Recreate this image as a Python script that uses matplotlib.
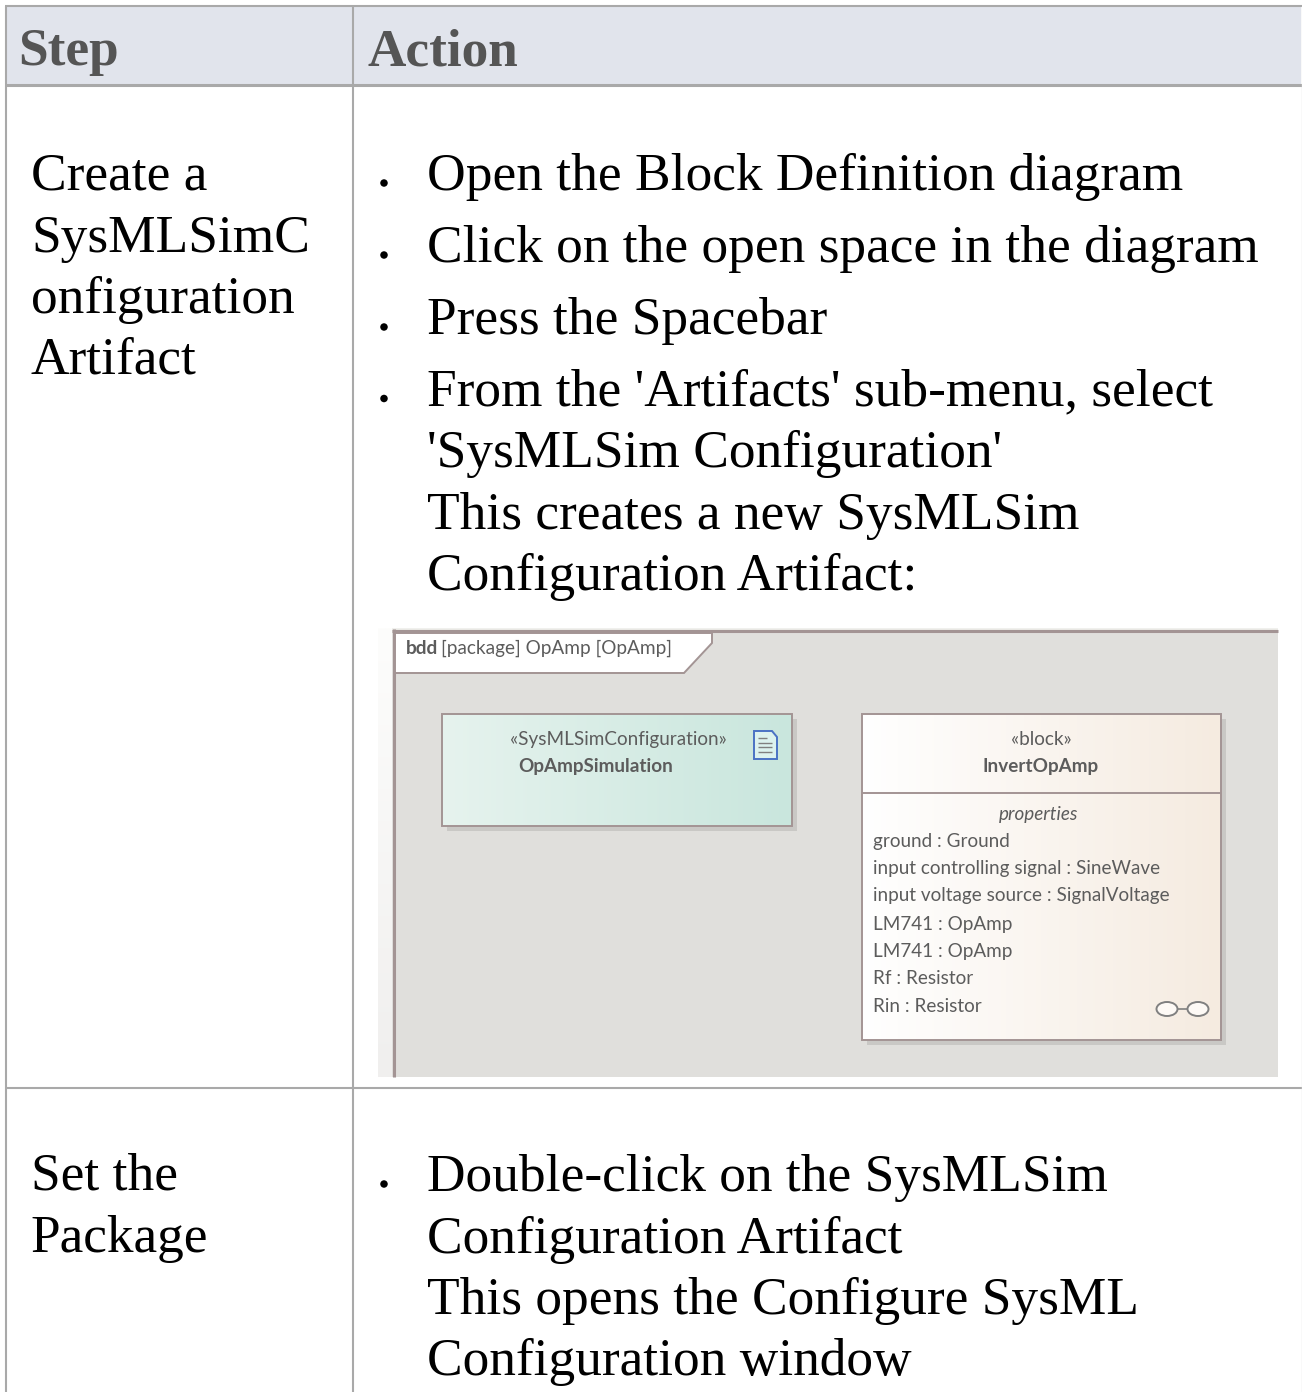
import numpy as np
import matplotlib
matplotlib.use("Agg")
import matplotlib.pyplot as plt
from matplotlib.patches import Rectangle, Polygon, Ellipse
from matplotlib.colors import LinearSegmentedColormap

headers = ["Step", "Action"]
step_lines_1 = ["Create a", "SysMLSimC", "onfiguration", "Artifact"]
step_lines_2 = ["Set the", "Package"]
action_bullets_1 = ["Open the Block Definition diagram", "Click on the open space in the diagram",
                    "Press the Spacebar", "From the 'Artifacts' sub-menu, select"]
action_cont_1 = ["'SysMLSim Configuration'", "This creates a new SysMLSim", "Configuration Artifact:"]
action_bullets_2 = ["Double-click on the SysMLSim"]
action_cont_2 = ["Configuration Artifact", "This opens the Configure SysML", "Configuration window"]
frame_label_bold = "bdd"
frame_label = "[package] OpAmp [OpAmp]"
config_stereo = "«SysMLSimConfiguration»"
config_name = "OpAmpSimulation"
block_stereo = "«block»"
block_name = "InvertOpAmp"
block_heading = "properties"
block_props = ["ground : Ground", "input controlling signal : SineWave", "input voltage source : SignalVoltage",
               "LM741 : OpAmp", "LM741 : OpAmp", "Rf : Resistor", "Rin : Resistor"]

SERIF = "Liberation Serif"
SANS = "Lato"
GRID = "#a9a9a9"
HEAD_INK = "#555555"
INK = "#5c5c5c"
EDGE = "#a39494"
SMALL = 13.6

fig = plt.figure(figsize=(13.02, 13.92), dpi=100)
ax = fig.add_axes([0, 0, 1, 1])
ax.set_xlim(0, 1302)
ax.set_ylim(1392, 0)
ax.axis("off")


def grad(x0, x1, y0, y1, c0, c1, z=2, vertical=False):
    cmap = LinearSegmentedColormap.from_list("g", [c0, c1])
    ramp = np.linspace(0, 1, 256)
    arr = ramp.reshape(-1, 1) if vertical else ramp.reshape(1, -1)
    ax.imshow(arr, extent=(x0, x1, y1, y0), origin="upper", cmap=cmap,
              aspect="auto", zorder=z, interpolation="bilinear")


def body(x, y, s):
    ax.text(x, y, s, family=SERIF, fontsize=38.42, color="black", va="baseline", ha="left", zorder=5)


def line(x0, y0, x1, y1, c=GRID, lw=1.5, z=3):
    ax.plot([x0, x1], [y0, y1], color=c, lw=lw, zorder=z, solid_capstyle="butt")


def small(x, y, s, **kw):
    ax.text(x, y, s, family=SANS, fontsize=SMALL, color=INK, zorder=5, **kw)


def bullet(y):
    ax.add_patch(Ellipse((384, y - 7), 7.5, 7.5, fc="black", ec="none", zorder=5))


# table
ax.add_patch(Rectangle((5, 6), 1296, 79, fc="#e1e4ec", ec="none", zorder=1))
line(5, 6, 1302, 6)
line(5, 85, 1302, 85, lw=2.2)
line(5, 1087.5, 1302, 1087.5)
line(5.5, 6, 5.5, 1392)
line(353, 6, 353, 1392)
line(1301.5, 6, 1301.5, 1392, c="#e2e2e2", lw=1)
ax.text(18.5, 65, headers[0], family=SERIF, fontsize=38.3, weight="bold", color=HEAD_INK, zorder=5)
ax.text(367.5, 65, headers[1], family=SERIF, fontsize=38.3, weight="bold", color=HEAD_INK, zorder=5)

# text cells
for y, s in zip([190, 252, 313, 374], step_lines_1):
    body(30.9, y, s)
for y, s in zip([1190, 1252], step_lines_2):
    body(30.9, y, s)
for y, s in zip([190, 262, 334, 405.5], action_bullets_1):
    body(426.9, y, s)
    bullet(y)
for y, s in zip([467.5, 528.5, 590], action_cont_1):
    body(426.9, y, s)
for y, s in zip([1191], action_bullets_2):
    body(426.9, y, s)
    bullet(y)
for y, s in zip([1253, 1314, 1375], action_cont_2):
    body(426.9, y, s)

# diagram picture
grad(378, 392, 628, 1077, "#fdfdfc", "#f0efee", z=1.5, vertical=True)
ax.add_patch(Rectangle((392, 629), 886, 448, fc="#e0dfdc", ec="none", zorder=1.6))
line(392, 628.5, 1278, 628.5, c="#eeeeea", lw=1.2, z=1.7)
line(392, 631, 1278, 631, c=EDGE, lw=2.2)
line(394, 629, 394, 1077, c=EDGE, lw=2.2)
ax.add_patch(Polygon([(395, 633), (712, 633), (712, 643), (684, 673), (395, 673)], closed=True,
                     fc="white", ec=EDGE, lw=1.4, zorder=3.2))
ax.text(405.5, 654, frame_label_bold, family=SANS, fontsize=13.7, weight="bold", color=INK, zorder=5)
ax.text(441, 654, frame_label, family=SANS, fontsize=13.7, color=INK, zorder=5)

# config element
ax.add_patch(Rectangle((447, 719), 350, 112, fc="#c9c8c5", ec="none", zorder=1.8))
grad(442, 792, 714, 826, "#e6f3ee", "#c9e6dd")
ax.add_patch(Rectangle((442, 714), 350, 112, fc="none", ec=EDGE, lw=1.4, zorder=3))
small(618, 745, config_stereo, ha="center")
small(596, 772, config_name, ha="center", weight="bold")
ax.add_patch(Polygon([(754, 731), (772, 731), (777, 737), (777, 759), (754, 759)], closed=True,
                     fc="#dcf2ee", ec="#4a72c4", lw=1.4, zorder=4))
for yy, xa in [(738, 767), (743, 772), (747, 772), (752, 772)]:
    line(758, yy, xa, yy, c="#808080", lw=1, z=5)

# block element
ax.add_patch(Rectangle((867, 719), 359, 326, fc="#c9c8c5", ec="none", zorder=1.8))
grad(862, 1221, 714, 1040, "#ffffff", "#f5ebe0")
ax.add_patch(Rectangle((862, 714), 359, 326, fc="none", ec=EDGE, lw=1.4, zorder=3))
line(862, 793, 1221, 793, c=EDGE, lw=1.4)
small(1041, 745, block_stereo, ha="center")
small(1041, 772, block_name, ha="center", weight="bold")
small(1039, 820, block_heading, ha="center", style="italic")
for y, s in zip([847, 874, 901, 930, 957, 984, 1012], block_props):
    small(873, y, s)
ax.add_patch(Ellipse((1167, 1009), 21, 14, fc="#fdf9f5", ec="#808080", lw=1.4, zorder=4))
ax.add_patch(Ellipse((1198, 1009), 21, 14, fc="#fdf9f5", ec="#808080", lw=1.4, zorder=4))
line(1177, 1009, 1188, 1009, c="#808080", lw=1.2)

ax.set_xlim(0, 1302)
ax.set_ylim(1392, 0)
fig.savefig("out.png", dpi=100, facecolor="white")
